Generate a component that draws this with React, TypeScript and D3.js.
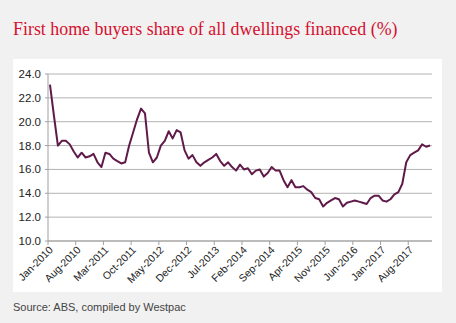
import React from "react";
import * as d3 from "d3";

const startYear = 2010;
const values: number[] = [
  23.1, 20.5, 18.0, 18.4, 18.4, 18.1, 17.5, 17.0, 17.4, 17.0, 17.1, 17.3,
  16.6, 16.2, 17.4, 17.3, 16.9, 16.7, 16.5, 16.6, 18.0, 19.1, 20.2, 21.1,
  20.7, 17.4, 16.6, 17.0, 18.0, 18.4, 19.2, 18.6, 19.3, 19.1, 17.6, 16.9,
  17.2, 16.6, 16.3, 16.6, 16.8, 17.0, 17.3, 16.7, 16.3, 16.6, 16.2, 15.9,
  16.4, 16.0, 16.1, 15.6, 15.9, 16.0, 15.4, 15.7, 16.2, 15.9, 15.9, 15.1,
  14.5, 15.1, 14.5, 14.5, 14.6, 14.3, 14.1, 13.6, 13.5, 12.9, 13.2, 13.4,
  13.6, 13.5, 12.9, 13.2, 13.3, 13.4, 13.3, 13.2, 13.1, 13.6, 13.8, 13.8,
  13.4, 13.3, 13.5, 13.9, 14.1, 14.8, 16.6, 17.2, 17.4, 17.6, 18.1, 17.9,
  18.0,
];
const monthNames = ["Jan", "Feb", "Mar", "Apr", "May", "Jun", "Jul", "Aug", "Sep", "Oct", "Nov", "Dec"];
const categories: string[] = values.map((_, i) => `${monthNames[i % 12]}-${startYear + Math.floor(i / 12)}`);
const yTicks: number[] = [10, 12, 14, 16, 18, 20, 22, 24];
const tickEvery = 7;
const title = "First home buyers share of all dwellings financed (%)";
const source = "Source: ABS, compiled by Westpac";

export default function App() {
  const W = 456, H = 323;
  const left = 48, right = 432, top = 74, bottom = 241;
  const x = d3.scaleBand<string>().domain(categories).range([left, right]).padding(0);
  const y = d3.scaleLinear().domain([10, 24]).range([bottom, top]);
  const line = d3
    .line<number>()
    .x((_, i) => (x(categories[i]) as number) + x.bandwidth() / 2)
    .y((d) => y(d));
  const tickIdx = categories.map((_, i) => i).filter((i) => i % tickEvery === 0);
  const font = "Liberation Sans, Arial, sans-serif";
  return (
    <svg width={W} height={H} style={{ position: "absolute", left: 0, top: 0 }}>
      <rect x={0} y={0} width={W} height={H} fill="#f1f1f1" />
      <text x={13} y={35} fill="#d5102f" fontFamily="Liberation Serif, Times New Roman, serif" fontSize={17.9}>
        {title}
      </text>
      <rect x={13} y={59} width={429} height={233} fill="#ffffff" />
      {yTicks.map((t) => (
        <g key={t}>
          <line x1={left} x2={right} y1={y(t)} y2={y(t)} stroke="#b3b3b3" strokeWidth={1} />
          <line x1={left - 3} x2={left} y1={y(t)} y2={y(t)} stroke="#a0a0a0" strokeWidth={1} />
          <text x={left - 7} y={y(t)} dy="0.35em" textAnchor="end" fontFamily={font} fontSize={11.5} fill="#222">
            {t.toFixed(1)}
          </text>
        </g>
      ))}
      <line x1={left} x2={left} y1={top} y2={bottom} stroke="#a0a0a0" strokeWidth={1} />
      <line x1={left} x2={right} y1={bottom} y2={bottom} stroke="#a0a0a0" strokeWidth={1.2} />
      {tickIdx.map((i) => {
        const tx = x(categories[i]) as number;
        return (
          <g key={i}>
            <line x1={tx} x2={tx} y1={bottom} y2={bottom + 4} stroke="#a0a0a0" strokeWidth={1} />
            <text
              transform={`translate(${tx + 3},${bottom + 7}) rotate(-45)`}
              textAnchor="end"
              dy="0.35em"
              fontFamily={font}
              fontSize={10.5}
              fill="#222"
            >
              {categories[i]}
            </text>
          </g>
        );
      })}
      <path d={line(values) || ""} fill="none" stroke="#5f1a4a" strokeWidth={2} strokeLinejoin="round" />
      <text x={13} y={311} fontFamily={font} fontSize={11} fill="#444">
        {source}
      </text>
    </svg>
  );
}
